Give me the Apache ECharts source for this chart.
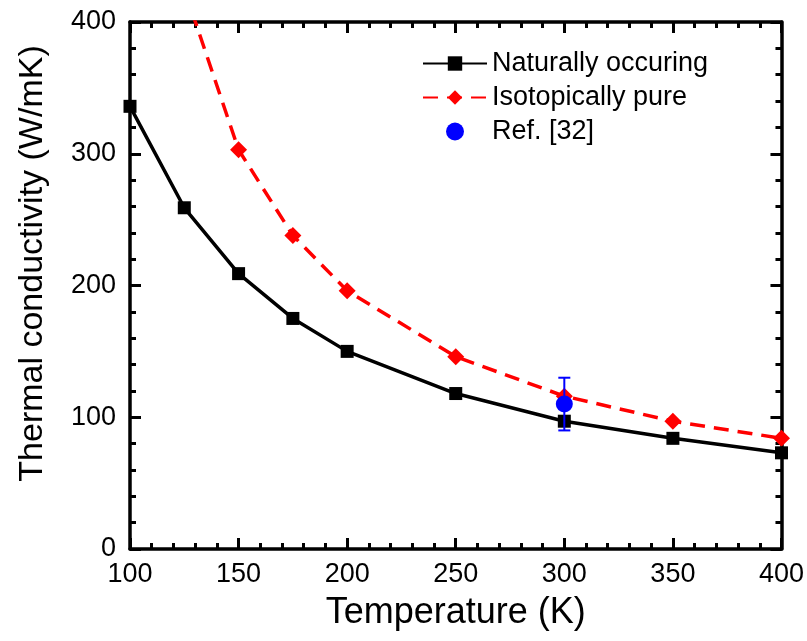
<!DOCTYPE html>
<html><head><meta charset="utf-8">
<script src="https://cdn.jsdelivr.net/npm/echarts@6/dist/echarts.min.js"></script>
<style>html,body{margin:0;padding:0;background:#fff}#c{width:807px;height:641px}</style>
</head><body><div id="c"></div>
<script>
var temps = [100, 125, 150, 175, 200, 250, 300, 350, 400];
var natural = [336, 259, 209, 175, 150, 118, 97, 84, 73];
var pureTemps = [125, 150, 175, 200, 250, 300, 350, 400];
var pure = [425, 303, 238, 196, 146, 116, 97, 84];
var refTemp = [300];
var refVal = [110];
var refErr = [20];
var xTicks = [100, 150, 200, 250, 300, 350, 400];
var yTicks = [0, 100, 200, 300, 400];

var font = 'Liberation Sans, Arial, sans-serif';
var chart = echarts.init(document.getElementById('c'));
function axisBase(show) {
  return {
    axisLine: {show: true, onZero: false, lineStyle: {color: '#000', width: 3.5}},
    axisTick: {show: true, inside: true, length: 11, lineStyle: {color: '#000', width: 3}},
    minorTick: {show: true, splitNumber: 5, length: 6, lineStyle: {color: '#000', width: 3}},
    splitLine: {show: false},
    axisLabel: {show: show, color: '#000', fontSize: 27, fontFamily: font}
  };
}
var xb = Object.assign(axisBase(true), {type: 'value', position: 'bottom', min: xTicks[0], max: xTicks[xTicks.length-1], interval: 50,
  name: 'Temperature (K)', nameLocation: 'middle', nameGap: 46, nameTextStyle: {fontSize: 36, color: '#000', fontFamily: font}});
xb.axisLabel.margin = 12;
var xt = Object.assign(axisBase(false), {type: 'value', position: 'top', min: 100, max: 400, interval: 50});
var yl = Object.assign(axisBase(true), {type: 'value', position: 'left', min: yTicks[0], max: yTicks[yTicks.length-1], interval: 100,
  name: 'Thermal conductivity (W/mK)', nameLocation: 'middle', nameGap: 80,
  nameTextStyle: {fontSize: 34, color: '#000', fontFamily: font, padding: [0, 0, 0, 44]}});
yl.axisLabel.margin = 14;
var yr = Object.assign(axisBase(false), {type: 'value', position: 'right', min: 0, max: 400, interval: 100});

chart.setOption({
  animation: false,
  grid: {left: 130, right: 24, top: 22, bottom: 92},
  xAxis: [xb, xt],
  yAxis: [yl, yr],
  legend: {
    orient: 'vertical', left: 417, top: 45, itemWidth: 64, itemHeight: 18, itemGap: 7,
    textStyle: {fontSize: 27, color: '#000', fontFamily: font},
    data: ['Naturally occuring', 'Isotopically pure', 'Ref. [32]']
  },
  series: [
    {name: 'Naturally occuring', type: 'line', xAxisIndex: 0, yAxisIndex: 0,
     data: temps.map(function(t, i){return [t, natural[i]];}),
     symbol: 'rect', symbolSize: 13, lineStyle: {color: '#000', width: 3.5}, itemStyle: {color: '#000'}, z: 3},
    {name: 'Isotopically pure', type: 'line', xAxisIndex: 0, yAxisIndex: 0, clip: true,
     data: pureTemps.map(function(t, i){return [t, pure[i]];}),
     symbol: 'diamond', symbolSize: 17, lineStyle: {color: '#ff0000', width: 3.5, type: [15, 9]}, itemStyle: {color: '#ff0000'}, z: 2},
    {name: 'errbar', type: 'custom', xAxisIndex: 0, yAxisIndex: 0, z: 4,
     data: refTemp.map(function(t, i){return [t, refVal[i] - refErr[i], refVal[i] + refErr[i]];}),
     itemStyle: {color: '#0000ff'},
     renderItem: function(params, api) {
       var lo = api.coord([api.value(0), api.value(1)]);
       var hi = api.coord([api.value(0), api.value(2)]);
       var w = 6;
       var st = {stroke: '#0000ff', lineWidth: 2};
       return {type: 'group', children: [
         {type: 'line', shape: {x1: lo[0], y1: lo[1], x2: hi[0], y2: hi[1]}, style: st},
         {type: 'line', shape: {x1: lo[0]-w, y1: lo[1], x2: lo[0]+w, y2: lo[1]}, style: st},
         {type: 'line', shape: {x1: hi[0]-w, y1: hi[1], x2: hi[0]+w, y2: hi[1]}, style: st}
       ]};
     }},
    {name: 'Ref. [32]', type: 'scatter', xAxisIndex: 0, yAxisIndex: 0, z: 5,
     data: refTemp.map(function(t, i){return [t, refVal[i]];}),
     symbol: 'circle', symbolSize: 17, itemStyle: {color: '#0000ff', opacity: 1}}
  ]
});
</script></body></html>
